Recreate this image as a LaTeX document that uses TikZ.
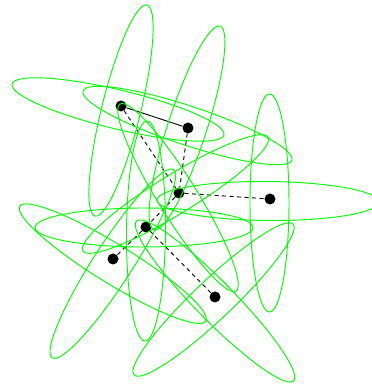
\documentclass[tikz,border=0pt]{standalone}
\begin{document}
\begin{tikzpicture}[x=1pt,y=1pt,
  dot/.style={circle,fill=black,inner sep=0pt,minimum size=11pt},
  ell/.style={draw={rgb,255:red,0;green,255;blue,0},line width=0.95pt},
  solidedge/.style={draw=black,line width=0.9pt},
  dashedge/.style={draw=black,line width=0.9pt,dash pattern=on 4pt off 3.5pt}]
\useasboundingbox (0,0) rectangle (372,386);
% nodes
\node[dot] (A) at (121,280) {};
\node[dot] (B) at (188,258) {};
\node[dot] (C) at (179,193) {};
\node[dot] (D) at (270,187) {};
\node[dot] (E) at (146,159) {};
\node[dot] (F) at (113,127) {};
\node[dot] (G) at (215,89) {};
% edges
\draw[solidedge] (A) -- (B);
\draw[dashedge] (A) -- (C);
\draw[dashedge] (B) -- (C);
\draw[dashedge] (C) -- (D);
\draw[dashedge] (C) -- (E);
\draw[dashedge] (E) -- (F);
\draw[dashedge] (E) -- (G);
% ellipses
\draw[ell, rotate around={76.2:(121,275.5)}] (121,275.5) ellipse [x radius=108.7pt, y radius=19.5pt];
\draw[ell, rotate around={-13.5:(118,276.5)}] (118,276.5) ellipse [x radius=109pt, y radius=19.5pt];
\draw[ell, rotate around={72:(187,258)}] (187,258) ellipse [x radius=107pt, y radius=19.5pt];
\draw[ell, rotate around={-18.3:(187.5,260.5)}] (187.5,260.5) ellipse [x radius=110pt, y radius=19.5pt];
\draw[ell, rotate around={31.6:(175.5,192)}] (175.5,192) ellipse [x radius=108.7pt, y radius=19.5pt];
\draw[ell, rotate around={-58.2:(178,188.5)}] (178,188.5) ellipse [x radius=110pt, y radius=19.5pt];
\draw[ell, rotate around={90:(269.5,183)}] (269.5,183) ellipse [x radius=109pt, y radius=19.5pt];
\draw[ell, rotate around={-0.5:(268,185)}] (268,185) ellipse [x radius=111pt, y radius=19.5pt];
\draw[ell, rotate around={89.5:(146,155)}] (146,155) ellipse [x radius=110pt, y radius=19.5pt];
\draw[ell] (144,158.5) ellipse [x radius=109pt, y radius=19.5pt];
\draw[ell, rotate around={-31.7:(112.8,122.3)}] (112.8,122.3) ellipse [x radius=109.3pt, y radius=19.5pt];
\draw[ell, rotate around={57.2:(112.8,122.3)}] (112.8,122.3) ellipse [x radius=112pt, y radius=19.5pt];
\draw[ell, rotate around={-45.5:(215,85)}] (215,85) ellipse [x radius=112pt, y radius=19.5pt];
\draw[ell, rotate around={43.5:(213.5,86.5)}] (213.5,86.5) ellipse [x radius=109.6pt, y radius=19.5pt];
\end{tikzpicture}
\end{document}
